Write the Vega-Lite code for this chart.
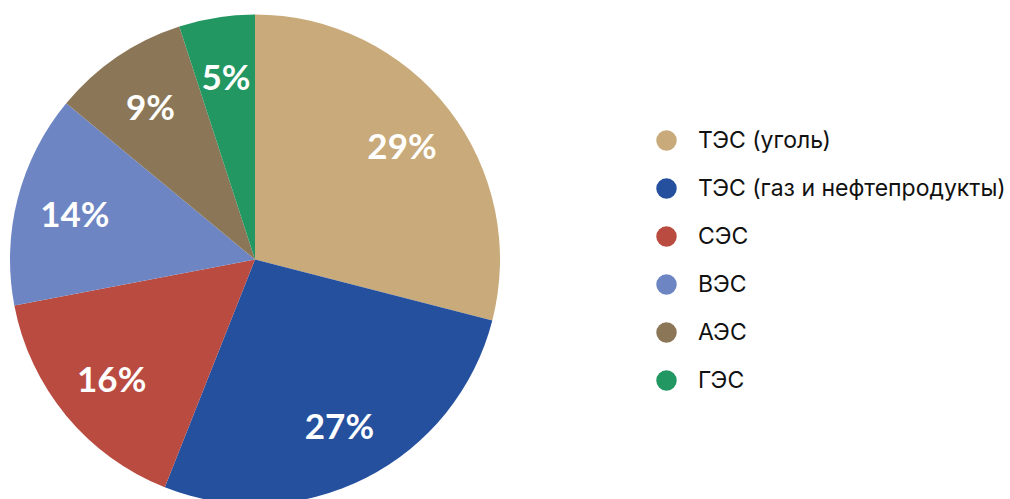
{
  "$schema": "https://vega.github.io/schema/vega-lite/v6.json",
  "width": 510,
  "height": 479,
  "autosize": {"type": "none"},
  "padding": {"left": 0, "top": 20, "right": 500, "bottom": 0},
  "background": "white",
  "config": {"view": {"stroke": null}},
  "data": {
    "values": [
      {"source": "ТЭС (уголь)", "share": 29, "order": 1, "label": "29%"},
      {"source": "ТЭС (газ и нефтепродукты)", "share": 27, "order": 2, "label": "27%"},
      {"source": "СЭС", "share": 16, "order": 3, "label": "16%"},
      {"source": "ВЭС", "share": 14, "order": 4, "label": "14%"},
      {"source": "АЭС", "share": 9, "order": 5, "label": "9%"},
      {"source": "ГЭС", "share": 5, "order": 6, "label": "5%"}
    ]
  },
  "encoding": {
    "theta": {"field": "share", "type": "quantitative", "stack": true},
    "order": {"field": "order", "type": "quantitative"},
    "color": {
      "field": "source",
      "type": "nominal",
      "scale": {
        "domain": ["ТЭС (уголь)", "ТЭС (газ и нефтепродукты)", "СЭС", "ВЭС", "АЭС", "ГЭС"],
        "range": ["#C9AA7A", "#25509E", "#BA4B41", "#6D85C3", "#8B7757", "#239762"]
      },
      "legend": {
        "title": null,
        "orient": "none",
        "legendX": 655,
        "legendY": 109,
        "symbolType": "circle",
        "symbolSize": 420,
        "symbolStrokeWidth": 0,
        "labelFont": "Inter",
        "labelFontSize": 23,
        "labelColor": "#111111",
        "labelOffset": 20,
        "rowPadding": 24,
        "labelLimit": 400
      }
    }
  },
  "layer": [
    {"mark": {"type": "arc", "outerRadius": 245}},
    {
      "mark": {"type": "text", "radius": 186, "dy": 3, "font": "Lato", "fontWeight": "bold", "fontSize": 35, "fill": "white", "align": "center", "baseline": "middle"},
      "encoding": {"text": {"field": "label"}, "color": {"value": "white"}}
    }
  ]
}
